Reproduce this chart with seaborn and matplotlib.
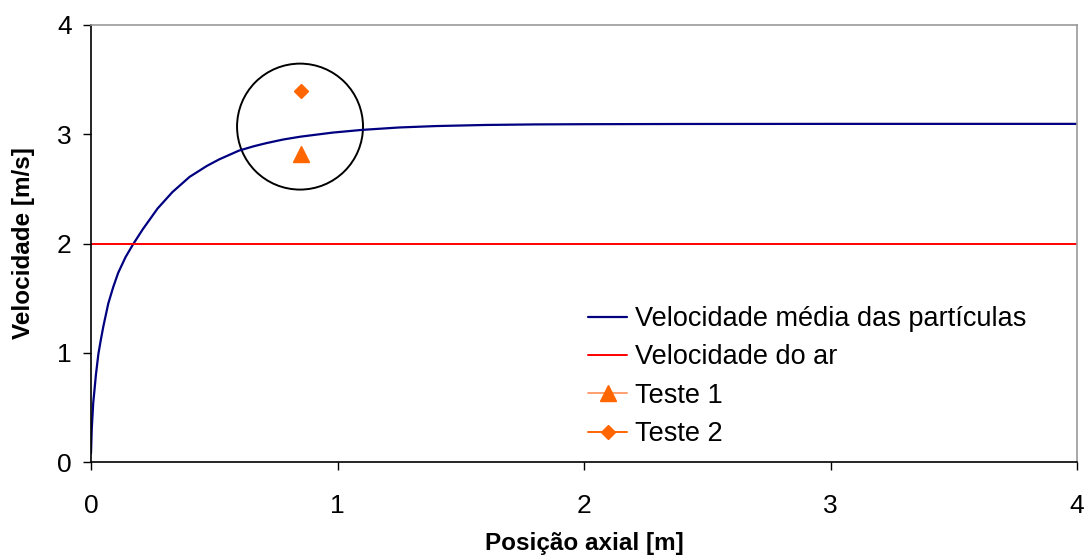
import numpy as np
import pandas as pd
import matplotlib
matplotlib.use("Agg")
import matplotlib.pyplot as plt
from matplotlib.patches import Ellipse
import seaborn as sns

# curva da velocidade media das particulas
pos_axial = [0.0, 0.003, 0.009, 0.015, 0.02, 0.03, 0.04, 0.05, 0.07, 0.09,
             0.11, 0.14, 0.17, 0.21, 0.27, 0.33, 0.40, 0.47, 0.52, 0.60,
             0.66, 0.71, 0.78, 0.85, 0.98, 1.1, 1.25, 1.4, 1.6, 1.8,
             2.0, 2.4, 3.0, 3.5, 4.0]
vel_particulas = [0.08, 0.30, 0.54, 0.68, 0.80, 0.99, 1.12, 1.24, 1.45, 1.60,
                  1.73, 1.875, 1.99, 2.13, 2.32, 2.47, 2.61, 2.71, 2.77, 2.85,
                  2.89, 2.918, 2.952, 2.978, 3.015, 3.04, 3.062, 3.075, 3.085, 3.09,
                  3.092, 3.094, 3.095, 3.095, 3.095]

# velocidade do ar
pos_ar = [0.0, 4.0]
vel_ar = [2.0, 2.0]

# testes experimentais
teste1_x = [0.85]
teste1_y = [2.82]
teste2_x = [0.85]
teste2_y = [3.40]

sns.set_style("white")
plt.rcParams["font.family"] = ["Liberation Sans", "DejaVu Sans"]
plt.rcParams["text.color"] = "black"
plt.rcParams["axes.labelcolor"] = "black"

fig = plt.figure(figsize=(10.86, 5.58), dpi=100)
ax = fig.add_axes([91 / 1086, 96 / 558, 986 / 1086, 437 / 558])

df = pd.DataFrame({"x": pos_axial, "y": vel_particulas})
sns.lineplot(
    data=df, x="x", y="y", ax=ax,
    color="#000080", linewidth=1.6,
    label="Velocidade média das partículas"
)

sns.lineplot(
    x=pos_ar, y=vel_ar, ax=ax,
    color="#FF0000", linewidth=1.4,
    label="Velocidade do ar"
)

ax.plot(
    teste1_x, teste1_y,
    marker="^", markersize=12, color="#FFA070",
    markerfacecolor="#FF6600", markeredgecolor="#FF6600",
    linewidth=1.4, label="Teste 1"
)
ax.plot(
    teste2_x, teste2_y,
    marker="D", markersize=7.5, color="#FF6600",
    markerfacecolor="#FF6600", markeredgecolor="#FF6600",
    linewidth=1.4, label="Teste 2"
)

# circulo de destaque
circ = Ellipse(
    (0.848, 3.07), width=0.511, height=1.153,
    fill=False, edgecolor="black", linewidth=1.4
)
ax.add_patch(circ)

ax.set_xlim(0, 4)
ax.set_ylim(0, 4)
ax.set_xticks([0, 1, 2, 3, 4])
ax.set_yticks([0, 1, 2, 3, 4])

ax.tick_params(
    axis="both", direction="out", length=6, width=1,
    labelsize=19, colors="black", left=True, bottom=True
)
ax.tick_params(axis="x", pad=17)
ax.tick_params(axis="y", pad=8)

for side in ["left", "bottom"]:
    ax.spines[side].set_color("black")
    ax.spines[side].set_linewidth(1.2)
for side in ["top", "right"]:
    ax.spines[side].set_visible(True)
    ax.spines[side].set_color("#999999")
    ax.spines[side].set_linewidth(1.2)

ax.set_xlabel("Posição axial [m]", fontsize=17.5, fontweight="bold", labelpad=10)
ax.set_ylabel("Velocidade [m/s]", fontsize=17.5, fontweight="bold", labelpad=16)

ax.legend(
    loc="upper left", bbox_to_anchor=(0.504, 0.357),
    frameon=False, fontsize=19.5, handlelength=1.45,
    handletextpad=0.28, labelspacing=0.46,
    borderpad=0, borderaxespad=0
)

plt.savefig("out.png", dpi=100)
plt.close()
